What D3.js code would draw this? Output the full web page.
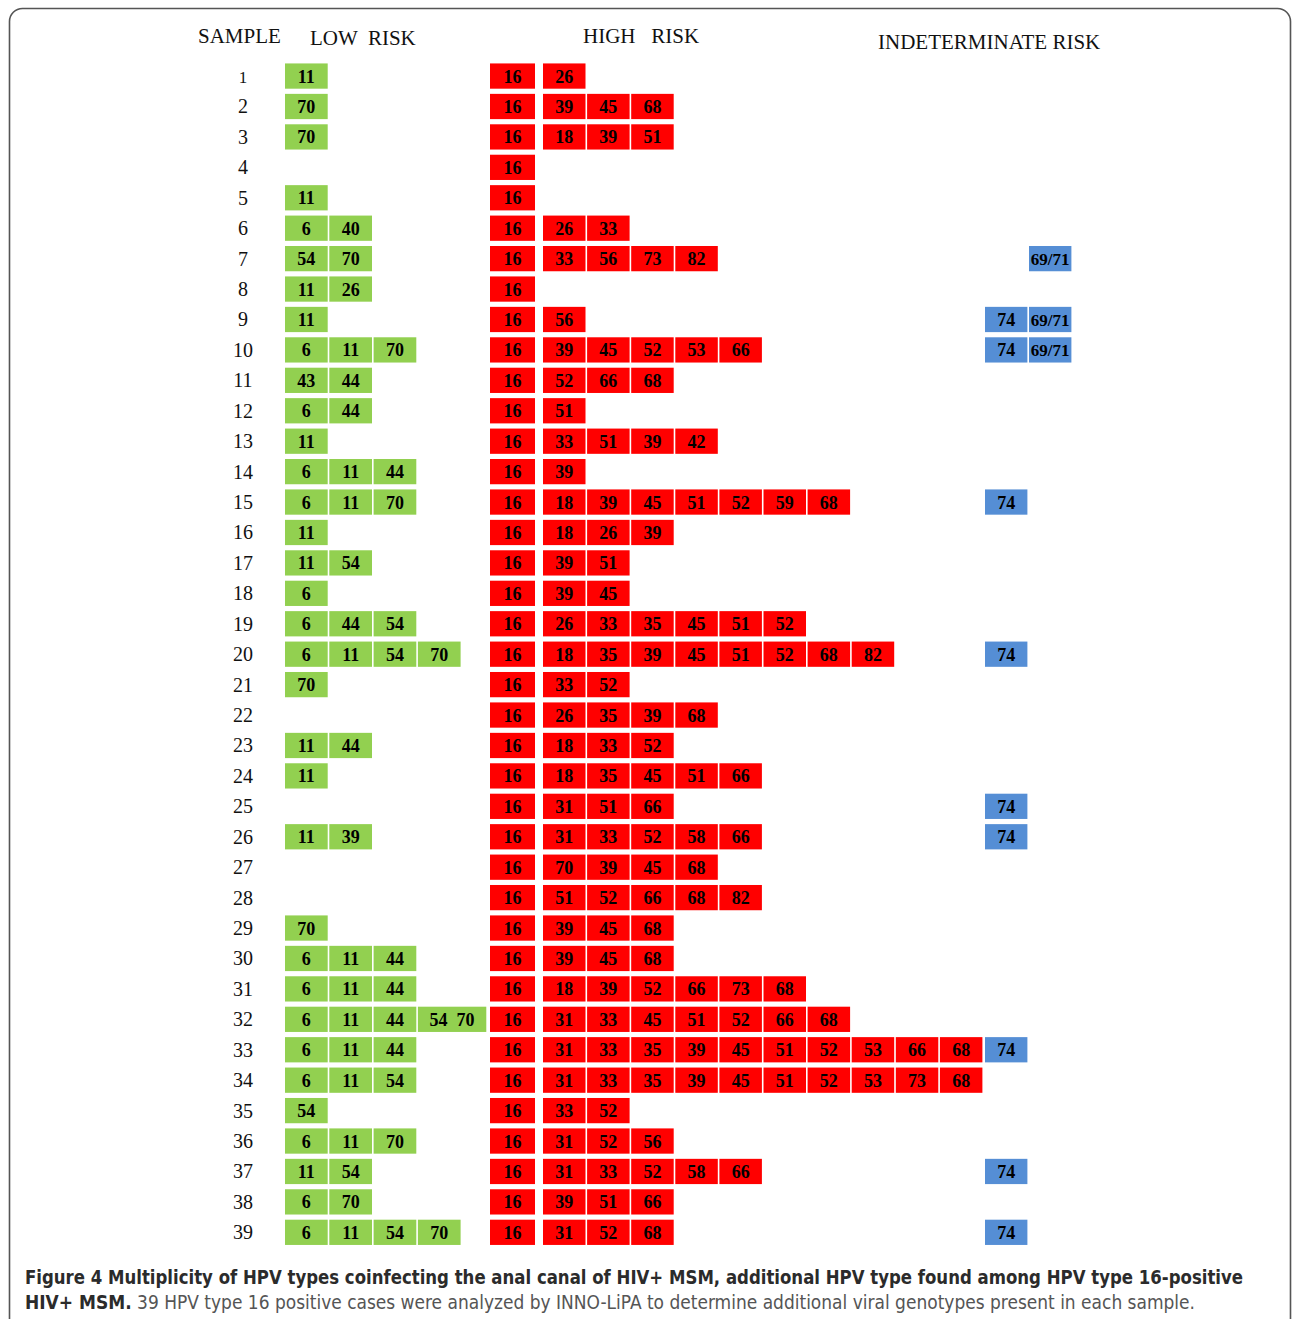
<!DOCTYPE html>
<html>
<head>
<meta charset="utf-8">
<script src="https://cdn.jsdelivr.net/npm/d3@7"></script>
<style>
  html, body { margin: 0; padding: 0; background: #fff; }
  svg { display: block; }
</style>
</head>
<body>
<div id="chart"></div>
<script>
// ---------------- DATA ----------------
const samples = d3.range(1, 40);

const headers = ["SAMPLE", "LOW  RISK", "HIGH   RISK", "INDETERMINATE RISK"];

const lowRisk = [
  ["11"], ["70"], ["70"], [], ["11"], ["6","40"], ["54","70"], ["11","26"], ["11"],
  ["6","11","70"], ["43","44"], ["6","44"], ["11"], ["6","11","44"], ["6","11","70"],
  ["11"], ["11","54"], ["6"], ["6","44","54"], ["6","11","54","70"], ["70"], [],
  ["11","44"], ["11"], [], ["11","39"], [], [], ["70"], ["6","11","44"], ["6","11","44"],
  ["6","11","44","54  70"], ["6","11","44"], ["6","11","54"], ["54"], ["6","11","70"],
  ["11","54"], ["6","70"], ["6","11","54","70"]
];

const highRisk = [
  ["16","26"],
  ["16","39","45","68"],
  ["16","18","39","51"],
  ["16"],
  ["16"],
  ["16","26","33"],
  ["16","33","56","73","82"],
  ["16"],
  ["16","56"],
  ["16","39","45","52","53","66"],
  ["16","52","66","68"],
  ["16","51"],
  ["16","33","51","39","42"],
  ["16","39"],
  ["16","18","39","45","51","52","59","68"],
  ["16","18","26","39"],
  ["16","39","51"],
  ["16","39","45"],
  ["16","26","33","35","45","51","52"],
  ["16","18","35","39","45","51","52","68","82"],
  ["16","33","52"],
  ["16","26","35","39","68"],
  ["16","18","33","52"],
  ["16","18","35","45","51","66"],
  ["16","31","51","66"],
  ["16","31","33","52","58","66"],
  ["16","70","39","45","68"],
  ["16","51","52","66","68","82"],
  ["16","39","45","68"],
  ["16","39","45","68"],
  ["16","18","39","52","66","73","68"],
  ["16","31","33","45","51","52","66","68"],
  ["16","31","33","35","39","45","51","52","53","66","68"],
  ["16","31","33","35","39","45","51","52","53","73","68"],
  ["16","33","52"],
  ["16","31","52","56"],
  ["16","31","33","52","58","66"],
  ["16","39","51","66"],
  ["16","31","52","68"]
];

// indeterminate: null = empty slot
const indeterminate = [
  [], [], [], [], [], [], [null,"69/71"], [], ["74","69/71"], ["74","69/71"],
  [], [], [], [], ["74"], [], [], [], [], ["74"], [], [], [], [], ["74"], ["74"],
  [], [], [], [], [], [], ["74"], [], [], [], ["74"], [], ["74"]
];

const captionBold1 = "Figure 4 Multiplicity of HPV types coinfecting the anal canal of HIV+ MSM, additional HPV type found among HPV type 16-positive";
const captionBold2 = "HIV+ MSM.";
const captionRest = " 39 HPV type 16 positive cases were analyzed by INNO-LiPA to determine additional viral genotypes present in each sample.";

// ---------------- LAYOUT ----------------
const W = 1292, H = 1319;
const colors = { low: "#92D050", high: "#FF0000", ind: "#558ED5" };

const svg = d3.select("#chart").append("svg").attr("width", W).attr("height", H);

// frame
svg.append("rect")
  .attr("x", 9.5).attr("y", 8.5).attr("width", 1281).attr("height", 1340)
  .attr("rx", 13).attr("ry", 13)
  .attr("fill", "none").attr("stroke", "#555").attr("stroke-width", 1.6);

const y = d3.scaleBand().domain(samples).range([61, 61 + 39 * 30.42]).paddingInner(0.17).paddingOuter(0.08);
const xLow = d3.scaleLinear().domain([0, 1]).range([285, 329.3]);
const xHigh = d3.scaleLinear().domain([1, 2]).range([543, 587.1]);
const xInd = d3.scaleLinear().domain([0, 1]).range([985, 1029]);
const gap = 1.6;

const serif = "'Liberation Serif', 'Times New Roman', serif";

// headers
const headerX = [198, 310, 583, 878];
const headerY = [43, 45, 43, 49];
svg.selectAll("text.hdr").data(headers).join("text")
  .attr("class", "hdr")
  .attr("x", (d, i) => headerX[i]).attr("y", (d, i) => headerY[i])
  .attr("font-family", serif).attr("font-size", 21)
  .attr("fill", "#111")
  .style("white-space", "pre")
  .text(d => d);

// row labels
svg.selectAll("text.row").data(samples).join("text")
  .attr("class", "row")
  .attr("x", 243).attr("y", d => y(d) + y.bandwidth() / 2 + 7)
  .attr("text-anchor", "middle")
  .attr("font-family", serif).attr("font-size", d => d === 1 ? 17 : 20)
  .attr("fill", "#111")
  .text(d => d);

// build cells
const cells = [];
samples.forEach((s, r) => {
  lowRisk[r].forEach((lab, i) => {
    const wide = lab.includes(" ");
    const step = xLow(1) - xLow(0);
    cells.push({ s, lab, kind: "low", x: xLow(i), w: (wide ? step * 1.58 : step) - gap });
  });
  highRisk[r].forEach((lab, i) => {
    const step = xHigh(2) - xHigh(1);
    if (i === 0) cells.push({ s, lab, kind: "high", x: xHigh(1) - 53, w: 45 });
    else cells.push({ s, lab, kind: "high", x: xHigh(i), w: step - gap });
  });
  indeterminate[r].forEach((lab, i) => {
    if (lab === null) return;
    const step = xInd(1) - xInd(0);
    cells.push({ s, lab, kind: "ind", x: xInd(i), w: step - gap });
  });
});

const g = svg.append("g");
const cell = g.selectAll("g.cell").data(cells).join("g").attr("class", "cell");
cell.append("rect")
  .attr("x", d => d.x).attr("y", d => y(d.s))
  .attr("width", d => d.w).attr("height", y.bandwidth())
  .attr("fill", d => colors[d.kind]);
cell.append("text")
  .attr("x", d => d.x + d.w / 2).attr("y", d => y(d.s) + y.bandwidth() / 2 + 6.5)
  .attr("text-anchor", "middle")
  .attr("font-family", serif).attr("font-weight", "bold")
  .attr("font-size", d => d.lab.length > 3 && !d.lab.includes(" ") ? 17 : 18)
  .attr("fill", "#000")
  .style("white-space", "pre")
  .text(d => d.lab);

// caption
const capFont = "'Liberation Sans Narrow', 'DejaVu Sans Condensed', 'Open Sans', sans-serif";
svg.append("text")
  .attr("x", 25).attr("y", 1284)
  .attr("font-family", capFont).attr("font-size", 19).attr("font-weight", "bold")
  .attr("fill", "#2b2b2b")
  .attr("textLength", 1218).attr("lengthAdjust", "spacingAndGlyphs")
  .text(captionBold1);

const cap2 = svg.append("text")
  .attr("x", 25).attr("y", 1309)
  .attr("font-family", capFont).attr("font-size", 19)
  .attr("textLength", 1170).attr("lengthAdjust", "spacingAndGlyphs")
  .style("white-space", "pre");
cap2.append("tspan").attr("font-weight", "bold").attr("fill", "#2b2b2b").text(captionBold2);
cap2.append("tspan").attr("fill", "#555").text(captionRest);
</script>
</body>
</html>
